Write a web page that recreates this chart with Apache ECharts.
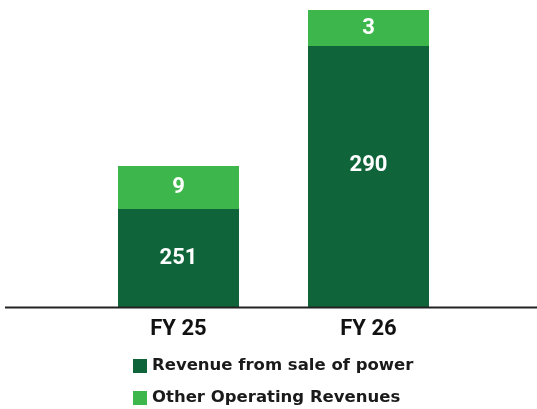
<!DOCTYPE html>
<html>
<head>
<meta charset="utf-8">
<script src="https://cdn.jsdelivr.net/npm/echarts@6/dist/echarts.min.js"></script>
<style>
  html, body { margin: 0; padding: 0; background: #fff; }
  #chart { width: 537px; height: 409px; }
</style>
</head>
<body>
<div id="chart"></div>
<script>
// categories and printed values
const categories = ['FY 25', 'FY 26']
const powerLabels = [251, 290]
const otherLabels = [9, 3]
// segment heights as drawn in the source (not to scale with the printed numbers)
const powerHeights = [98, 261]
const otherHeights = [43, 36]

const chart = echarts.init(document.getElementById('chart'))

const labelStyle = (labels) => ({
  show: true,
  position: 'inside',
  color: '#fff',
  fontFamily: 'Roboto',
  fontWeight: 'bold',
  fontSize: 22,
  formatter: p => labels[p.dataIndex]
})

chart.setOption({
  animation: false,
  grid: { left: 83.5, width: 380, top: 10, bottom: 102 },
  xAxis: {
    type: 'category',
    data: categories,
    axisLine: { show: false },
    axisTick: { show: false },
    axisLabel: {
      margin: 11,
      color: '#111',
      fontFamily: 'Roboto',
      fontWeight: 'bold',
      fontSize: 22
    }
  },
  yAxis: {
    type: 'value',
    min: 0,
    max: 297,
    show: false,
    splitLine: { show: false }
  },
  legend: {
    orient: 'vertical',
    left: 133,
    top: 356,
    height: 53,
    padding: 0,
    itemWidth: 14,
    itemHeight: 14,
    itemGap: 12,
    icon: 'rect',
    textStyle: {
      color: '#1a1a1a',
      fontFamily: 'DejaVu Sans',
      fontWeight: 'bold',
      fontSize: 16.5,
      lineHeight: 20
    }
  },
  graphic: [{
    type: 'line',
    shape: { x1: 5, y1: 307.5, x2: 537, y2: 307.5 },
    style: { stroke: '#222', lineWidth: 2 },
    z: 10
  }],
  series: [
    {
      name: 'Revenue from sale of power',
      type: 'bar',
      stack: 'rev',
      barWidth: 121,
      data: powerHeights.map((v, i) => i === 1 ? { value: v, label: { offset: [0, -11] } } : v),
      itemStyle: { color: '#0F6439' },
      label: labelStyle(powerLabels)
    },
    {
      name: 'Other Operating Revenues',
      type: 'bar',
      stack: 'rev',
      barWidth: 121,
      data: otherHeights,
      itemStyle: { color: '#3DB74B' },
      label: labelStyle(otherLabels)
    }
  ]
})
</script>
</body>
</html>
